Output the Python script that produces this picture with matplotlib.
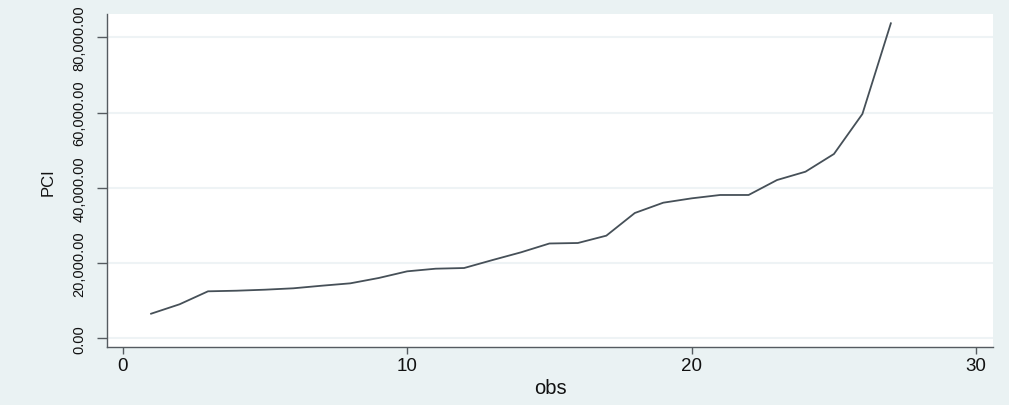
import matplotlib
matplotlib.use("Agg")
import matplotlib.pyplot as plt
from matplotlib.ticker import FuncFormatter

# per-capita income, sorted, one value per observation
obs = list(range(1, 28))
pci = [6540, 9040, 12490, 12650, 12920, 13290, 13980, 14610, 16030, 17800,
       18500, 18680, 20800, 22850, 25200, 25330, 27280, 33300, 36040, 37200,
       38090, 38090, 42070, 44280, 48990, 59620, 83720]

xticks = [0, 10, 20, 30]
yticks = [0, 20000, 40000, 60000, 80000]

bg = "#eaf2f3"
axcol = "#555b60"

plt.rcParams["font.family"] = "Liberation Sans"

fig = plt.figure(figsize=(10.09, 4.06), dpi=100, facecolor=bg)
ax = fig.add_axes([107 / 1009, 1 - 348.3 / 406, (993 - 107) / 1009, (348.3 - 15) / 406])
ax.set_facecolor("white")

ax.plot(obs, pci, color="#465058", lw=1.3)

ax.set_xlim(-0.55, 30.59)
ax.set_ylim(-2390, 86190)
ax.set_xticks(xticks)
ax.set_yticks(yticks)
ax.yaxis.set_major_formatter(FuncFormatter(lambda v, p: "{:,.2f}".format(v)))

ax.grid(axis="y", color="#eef3f5", lw=1.5)
ax.grid(axis="x", visible=False)
ax.set_axisbelow(True)

for s in ["top", "right"]:
    ax.spines[s].set_visible(False)
for s in ["left", "bottom"]:
    ax.spines[s].set_color(axcol)
    ax.spines[s].set_linewidth(1.0)

ax.tick_params(axis="x", length=5, width=1, color=axcol, pad=2, labelsize=13.5,
               labelcolor="#111111")
ax.tick_params(axis="y", length=7, width=1, color=axcol, pad=8, labelsize=10.5,
               labelcolor="#111111")
for lab in ax.get_yticklabels():
    lab.set_rotation(90)
    lab.set_va("center")

ax.set_xlabel("obs", fontsize=14.5, labelpad=3, color="#111111")
ax.set_ylabel("PCI", fontsize=12, labelpad=12, color="#111111")

fig.savefig("out.png", dpi=100, facecolor=bg)
